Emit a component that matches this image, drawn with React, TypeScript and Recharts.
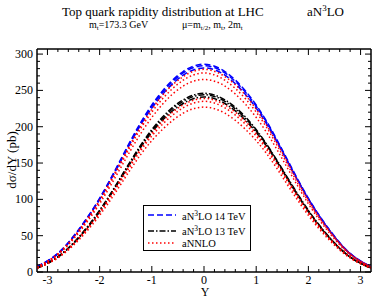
import React from 'react';
import { LineChart, Line, XAxis, YAxis, Legend, ReferenceArea } from 'recharts';

// Rapidity grid
const rapidity = [-3.2, -2.8, -2.4, -2.0, -1.6, -1.2, -0.8, -0.4, 0, 0.4, 0.8, 1.2, 1.6, 2.0, 2.4, 2.8, 3.2];

// aN3LO 14 TeV (mu = mt/2, mt, 2mt)
const n3lo14A = [7.2, 25.7, 58.6, 101.5, 154.4, 207.4, 248.8, 276, 286, 276, 248.8, 207.4, 154.4, 101.5, 58.6, 25.7, 7.2];
const n3lo14B = [7.1, 25.5, 58, 101, 153, 206, 247, 274, 284, 274, 247, 206, 153, 101, 58, 25.5, 7.1];
const n3lo14C = [7, 25, 57.5, 100, 152, 204, 244, 271, 281, 271, 244, 204, 152, 100, 57.5, 25, 7];
// aN3LO 13 TeV
const n3lo13A = [5.4, 21, 48, 85, 130, 176, 213, 237, 246, 237, 213, 176, 130, 85, 48, 21, 5.4];
const n3lo13B = [5.4, 20.7, 47.6, 84, 129, 175, 211, 235, 244, 235, 211, 175, 129, 84, 47.6, 20.7, 5.4];
const n3lo13C = [5.3, 20.5, 47, 83, 128, 173, 208.5, 232, 241, 232, 208.5, 173, 128, 83, 47, 20.5, 5.3];
// aNNLO 14 TeV
const nnlo14A = [7, 25, 57, 99, 151, 202, 243, 269, 279, 269, 243, 202, 151, 99, 57, 25, 7];
const nnlo14B = [6.8, 24.7, 56, 97, 148, 199, 238, 264, 274, 264, 238, 199, 148, 97, 56, 24.7, 6.8];
const nnlo14C = [6.6, 23.8, 54, 94, 143, 192, 230.5, 256, 265, 256, 230.5, 192, 143, 94, 54, 23.8, 6.6];
// aNNLO 13 TeV
const nnlo13A = [5.3, 20.3, 46.6, 82.5, 127, 171, 207, 230, 239, 230, 207, 171, 127, 82.5, 46.6, 20.3, 5.3];
const nnlo13B = [5.2, 20, 45.8, 81, 124.5, 168.5, 203, 226, 235, 226, 203, 168.5, 124.5, 81, 45.8, 20, 5.2];
const nnlo13C = [5, 19.3, 44, 78, 120, 163, 196, 218.6, 227, 218.6, 196, 163, 120, 78, 44, 19.3, 5];

const xTicks = [-3.0, -2.8, -2.6, -2.4, -2.2, -2.0, -1.8, -1.6, -1.4, -1.2, -1.0, -0.8, -0.6, -0.4, -0.2, 0,
  0.2, 0.4, 0.6, 0.8, 1.0, 1.2, 1.4, 1.6, 1.8, 2.0, 2.2, 2.4, 2.6, 2.8, 3.0];
const yTicks = [0, 10, 20, 30, 40, 50, 60, 70, 80, 90, 100, 110, 120, 130, 140, 150, 160, 170, 180, 190, 200,
  210, 220, 230, 240, 250, 260, 270, 280, 290, 300];

const data = rapidity.map((y, i) => ({
  y,
  a14: n3lo14A[i], b14: n3lo14B[i], c14: n3lo14C[i],
  a13: n3lo13A[i], b13: n3lo13B[i], c13: n3lo13C[i],
  na14: nnlo14A[i], nb14: nnlo14B[i], nc14: nnlo14C[i],
  na13: nnlo13A[i], nb13: nnlo13B[i], nc13: nnlo13C[i],
}));

const FONT = 'Liberation Serif, DejaVu Serif, serif';
const isMajorX = (v: number) => Math.abs(v - Math.round(v)) < 1e-6;
const isMajorY = (v: number) => Math.abs(v % 50) < 1e-6;

const BottomTick = (p: any) => {
  const { x, y, payload } = p;
  const v = payload.value;
  const major = isMajorX(v);
  return (
    <g>
      <line x1={x} x2={x} y1={y} y2={y - (major ? 6 : 3)} stroke="#000" strokeWidth={1} />
      {major && (
        <text x={x} y={y + 12} textAnchor="middle" fontSize={12} fontFamily={FONT} fill="#000">
          {Math.round(v)}
        </text>
      )}
    </g>
  );
};
const TopTick = (p: any) => {
  const { x, y, payload } = p;
  const major = isMajorX(payload.value);
  return <line x1={x} x2={x} y1={y} y2={y + (major ? 6 : 3)} stroke="#000" strokeWidth={1} />;
};
const LeftTick = (p: any) => {
  const { x, y, payload } = p;
  const v = payload.value;
  const major = isMajorY(v);
  return (
    <g>
      <line x1={x} x2={x + (major ? 6 : 3)} y1={y} y2={y} stroke="#000" strokeWidth={1} />
      {major && (
        <text x={x - 4} y={y + 4} textAnchor="end" fontSize={12} fontFamily={FONT} fill="#000">
          {v}
        </text>
      )}
    </g>
  );
};
const RightTick = (p: any) => {
  const { x, y, payload } = p;
  const major = isMajorY(payload.value);
  return <line x1={x} x2={x - (major ? 6 : 3)} y1={y} y2={y} stroke="#000" strokeWidth={1} />;
};

const BLUE_DASH = '6 3';
const BLACK_DASH = '6 2 1.5 2';
const RED_DOT = '1.5 2.5';

const LegendBox = () => (
  <svg width={108} height={46} style={{ display: 'block' }}>
    <rect x={0.5} y={0.5} width={107} height={45} fill="#fff" stroke="#000" strokeWidth={1} />
    <line x1={5} x2={33} y1={10} y2={10} stroke="#0000ff" strokeWidth={1.5} strokeDasharray={BLUE_DASH} />
    <text x={39} y={15} fontSize={10.5} fontFamily={FONT} fill="#000">
      aN<tspan dy={-4} fontSize={7.5}>3</tspan><tspan dy={4}>LO  14 TeV</tspan>
    </text>
    <line x1={5} x2={33} y1={26} y2={26} stroke="#000" strokeWidth={1.5} strokeDasharray={BLACK_DASH} />
    <text x={39} y={30} fontSize={10.5} fontFamily={FONT} fill="#000">
      aN<tspan dy={-4} fontSize={7.5}>3</tspan><tspan dy={4}>LO  13 TeV</tspan>
    </text>
    <line x1={5} x2={33} y1={38} y2={38} stroke="#ff0000" strokeWidth={1.5} strokeDasharray={RED_DOT} />
    <text x={39} y={42} fontSize={10.5} fontFamily={FONT} fill="#000">aNNLO</text>
  </svg>
);

const series = [
  { key: 'a14', color: '#0000ff', dash: BLUE_DASH },
  { key: 'b14', color: '#0000ff', dash: BLUE_DASH },
  { key: 'c14', color: '#0000ff', dash: BLUE_DASH },
  { key: 'a13', color: '#000000', dash: BLACK_DASH },
  { key: 'b13', color: '#000000', dash: BLACK_DASH },
  { key: 'c13', color: '#000000', dash: BLACK_DASH },
  { key: 'na14', color: '#ff0000', dash: RED_DOT },
  { key: 'nb14', color: '#ff0000', dash: RED_DOT },
  { key: 'nc14', color: '#ff0000', dash: RED_DOT },
  { key: 'na13', color: '#ff0000', dash: RED_DOT },
  { key: 'nb13', color: '#ff0000', dash: RED_DOT },
  { key: 'nc13', color: '#ff0000', dash: RED_DOT },
];

export default function App() {
  return (
    <div style={{ position: 'absolute', left: 0, top: 0, width: 374, height: 298, background: '#fff' }}>
      <LineChart width={374} height={298} data={data} margin={{ top: 48, right: 0, bottom: 0, left: 0 }}>
        <XAxis dataKey="y" type="number" domain={[-3.2, 3.2]} ticks={xTicks} interval={0} height={26}
          tickSize={0} tickMargin={0} tickLine={false} tick={<BottomTick />} axisLine={{ stroke: '#000' }}
          allowDataOverflow />
        <XAxis xAxisId="top" orientation="top" dataKey="y" type="number" domain={[-3.2, 3.2]} ticks={xTicks}
          interval={0} height={1} tickSize={0} tickMargin={0} tickLine={false} tick={<TopTick />}
          axisLine={{ stroke: '#000' }} allowDataOverflow />
        <YAxis type="number" domain={[0, 307]} ticks={yTicks} interval={0} width={37} tickSize={0}
          tickMargin={0} tickLine={false} tick={<LeftTick />} axisLine={{ stroke: '#000' }} allowDataOverflow />
        <YAxis yAxisId="right" orientation="right" type="number" domain={[0, 307]} ticks={yTicks} interval={0}
          width={3} tickSize={0} tickMargin={0} tickLine={false} tick={<RightTick />}
          axisLine={{ stroke: '#000' }} allowDataOverflow />
        <ReferenceArea x1={-3.2} x2={3.2} y1={0} y2={307} fill="none" stroke="#000" strokeWidth={1}
          ifOverflow="visible" />
        {series.map((s) => (
          <Line key={s.key} dataKey={s.key} type="natural" stroke={s.color} strokeWidth={1.5}
            strokeDasharray={s.dash} dot={false} isAnimationActive={false} legendType="none" />
        ))}
        <Legend layout="vertical" align="center" verticalAlign="middle" content={<LegendBox />}
          wrapperStyle={{ position: 'absolute', left: 143, top: 205, width: 108, height: 46 }} />
      </LineChart>
      <svg width={374} height={298} style={{ position: 'absolute', left: 0, top: 0, pointerEvents: 'none' }}>
        <text x={62} y={16} fontSize={13} fontFamily={FONT} fill="#000">Top quark rapidity distribution at  LHC</text>
        <text x={307} y={16} fontSize={13} fontFamily={FONT} fill="#000">
          aN<tspan dy={-5} fontSize={9}>3</tspan><tspan dy={5}>LO</tspan>
        </text>
        <text x={89} y={28} fontSize={10} fontFamily={FONT} fill="#000">
          m<tspan dy={2} fontSize={7}>t</tspan><tspan dy={-2}>=173.3 GeV</tspan>
        </text>
        <text x={182} y={28} fontSize={10} fontFamily={FONT} fill="#000">
          μ=m<tspan dy={2} fontSize={7}>t/2</tspan><tspan dy={-2}>, m</tspan><tspan dy={2} fontSize={7}>t</tspan>
          <tspan dy={-2}>, 2m</tspan><tspan dy={2} fontSize={7}>t</tspan>
        </text>
        <text x={205} y={296} textAnchor="middle" fontSize={12} fontFamily={FONT} fill="#000">Y</text>
        <text x={16} y={160} textAnchor="middle" fontSize={13} fontFamily={FONT} fill="#000"
          transform="rotate(-90 16 160)">dσ/dY (pb)</text>
      </svg>
    </div>
  );
}
